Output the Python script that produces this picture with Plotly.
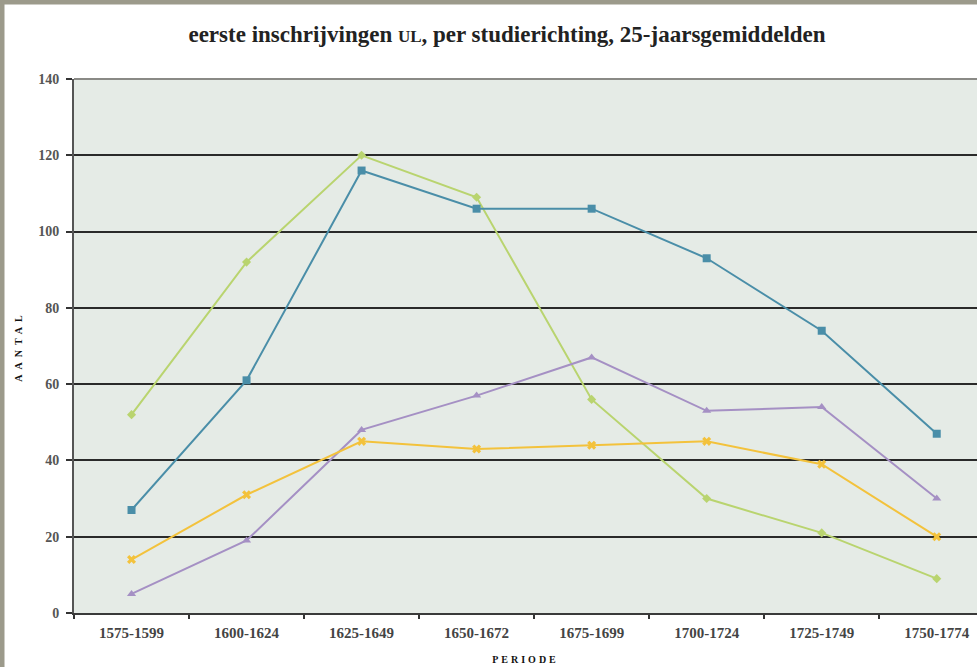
import plotly.graph_objects as go

periods = ["1575-1599", "1600-1624", "1625-1649", "1650-1672", "1675-1699",
           "1700-1724", "1725-1749", "1750-1774"]
green_vals = [52, 92, 120, 109, 56, 30, 21, 9]
blue_vals = [27, 61, 116, 106, 106, 93, 74, 47]
purple_vals = [5, 19, 48, 57, 67, 53, 54, 30]
yellow_vals = [14, 31, 45, 43, 44, 45, 39, 20]
y_ticks = [0, 20, 40, 60, 80, 100, 120, 140]

W, H = 977, 667
L, T, B, R = 74, 79, 54, 0
PW, PH = W - L - R, H - T - B

def px(x):
    return (x - L) / PW

def py(y):
    return (H - B - y) / PH

fig = go.Figure()
series = [
    (green_vals, "#b9d46f", "diamond", 7),
    (blue_vals, "#4a8ea8", "square", 8),
    (purple_vals, "#a590c4", "triangle-up", 8),
    (yellow_vals, "#f3c23c", "x", 8),
]
for vals, col, sym, sz in series:
    fig.add_trace(go.Scatter(
        x=periods, y=vals, mode="lines+markers",
        line=dict(color=col, width=2),
        marker=dict(symbol=sym, size=sz, color=col),
        showlegend=False, hoverinfo="skip",
    ))

serif = "Liberation Serif"
fig.update_layout(
    width=W, height=H,
    margin=dict(l=L, r=R, t=T, b=B, pad=0),
    paper_bgcolor="white",
    plot_bgcolor="#e5ebe6",
    title=dict(
        text="eerste inschrijvingen <span style='font-size:17px'>UL</span>, per studierichting, 25-jaarsgemiddelden",
        font=dict(family=serif, size=23, color="#222222", weight="bold"),
        x=px(507), xref="paper", xanchor="center",
        y=1 - 34 / H, yref="container", yanchor="middle",
    ),
    xaxis=dict(
        type="category",
        range=[-0.5, 7.35],
        showgrid=False,
        ticks="outside", tickson="boundaries", ticklen=4, tickwidth=2, tickcolor="#333333",
        showline=True, linecolor="#3a3a3a", linewidth=2,
        tickfont=dict(family=serif, size=15, color="#444444", weight="bold"),
        ticklabelstandoff=5,
        title=dict(text="<span style='letter-spacing:3px'>PERIODE</span>",
                   font=dict(family=serif, size=10, color="#111111", weight="bold"),
                   standoff=16),
        zeroline=False,
        fixedrange=True,
    ),
    yaxis=dict(
        range=[0, 140],
        tickvals=y_ticks,
        showgrid=True, gridcolor="#2a2a2a", gridwidth=2,
        ticks="outside", ticklen=6, tickwidth=2, tickcolor="#333333",
        showline=True, linecolor="#555555", linewidth=2,
        tickfont=dict(family=serif, size=14, color="#555555", weight="bold"),
        ticklabelstandoff=4,
        title=dict(text="<span style='letter-spacing:5px'>AANTAL</span>",
                   font=dict(family=serif, size=10, color="#111111", weight="bold"),
                   standoff=14),
        zeroline=False,
        fixedrange=True,
    ),
    shapes=[
        dict(type="line", xref="paper", yref="paper", x0=0, x1=1, y0=1, y1=1,
             line=dict(color="#8a8a86", width=2), layer="above"),
        dict(type="line", xref="paper", yref="paper", x0=px(2), x1=px(2), y0=py(0), y1=py(H),
             line=dict(color="#9c9a8b", width=5), layer="above"),
        dict(type="line", xref="paper", yref="paper", x0=px(0), x1=px(W), y0=py(2), y1=py(2),
             line=dict(color="#9c9a8b", width=5), layer="above"),
    ],
)

fig.write_html(
    "out.html",
    config={"displayModeBar": False},
    post_script="document.body.style.margin='0';document.body.style.overflow='hidden';",
)
